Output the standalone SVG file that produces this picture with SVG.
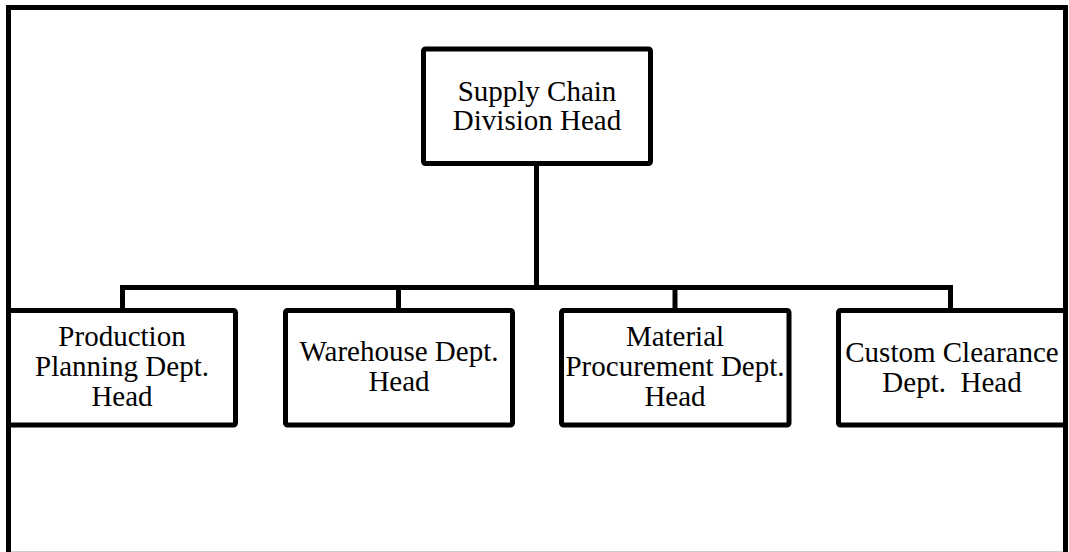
<svg xmlns="http://www.w3.org/2000/svg" width="1069" height="552" viewBox="0 0 1069 552">
<style>
.frame{fill:none;stroke:#000;stroke-width:5}
.box{fill:#fff;stroke:#000;stroke-width:5;stroke-linejoin:round}
.conn{fill:none;stroke:#000;stroke-width:5;stroke-linejoin:miter}
text{font-family:"Liberation Serif","Times New Roman",serif;font-size:29px;fill:#000;text-anchor:middle;white-space:pre}
</style>
<rect x="0" y="0" width="1069" height="552" fill="#fff"/>
<rect class="frame" x="8.5" y="7.5" width="1057" height="546.8"/>
<g id="connectors">
<path class="conn" d="M536.5,163.5 V287.5"/>
<path class="conn" d="M122.5,311 V287.5 H950.5 V311"/>
<path class="conn" d="M398.5,287.5 V311"/>
<path class="conn" d="M675,287.5 V311"/>
</g>
<g id="top">
<rect class="box" x="423.5" y="49" width="227" height="114.5" rx="2"/>
<text x="537" y="101">Supply Chain</text>
<text x="537" y="130">Division Head</text>
</g>
<g id="production">
<rect class="box" x="8.5" y="310.5" width="227" height="114.5" rx="2"/>
<text x="122" y="346">Production</text>
<text x="122" y="376">Planning Dept.</text>
<text x="122" y="406">Head</text>
</g>
<g id="warehouse">
<rect class="box" x="285.5" y="310.5" width="227" height="114.5" rx="2"/>
<text x="399" y="361">Warehouse Dept.</text>
<text x="399" y="391">Head</text>
</g>
<g id="material">
<rect class="box" x="561.5" y="310.5" width="227.5" height="114.5" rx="2"/>
<text x="675" y="346">Material</text>
<text x="675" y="376">Procurement Dept.</text>
<text x="675" y="406">Head</text>
</g>
<g id="custom">
<rect class="box" x="838.5" y="310.5" width="227" height="114.5" rx="2"/>
<text x="952" y="362">Custom Clearance</text>
<text x="952" y="392">Dept.  Head</text>
</g>
</svg>
